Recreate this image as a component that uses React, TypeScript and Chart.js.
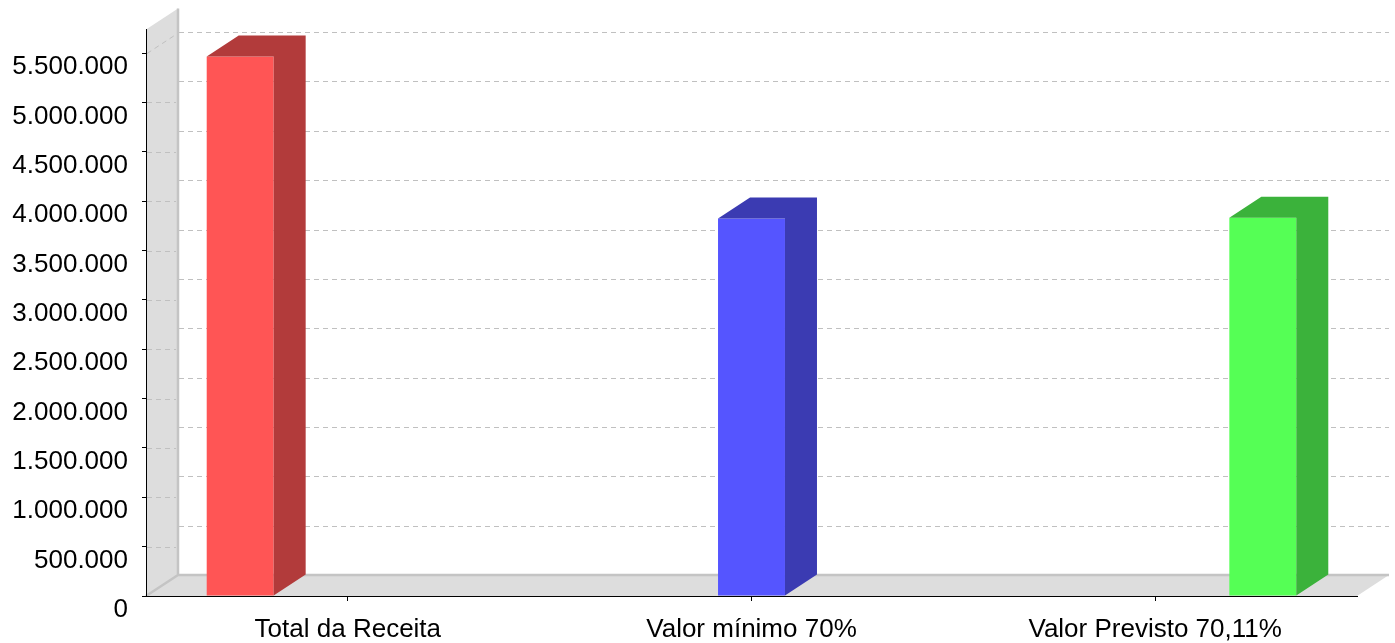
import React, { useEffect, useRef } from "react";
import { Chart, registerables } from "chart.js";

Chart.register(...registerables);

// ---- data ----
const categories = ["Total da Receita", "Valor mínimo 70%", "Valor Previsto 70,11%"];
const seriesNames = ["Total da Receita", "Valor mínimo 70%", "Valor Previsto 70,11%"];
const totalReceita = [5465000, null, null];
const valorMinimo = [null, 3825500, null];
const valorPrevisto = [null, null, 3831500];
const yMin = 0;
const yMax = 5738250;
const yStep = 500000;

// ---- styles ----
const frontColors = ["#FF5555", "#5555FF", "#55FF55"];
const sideColors = ["#B23B3B", "#3B3BB2", "#3BB23B"];
const DX = 32;
const DY = 21;
const FONT = "'Liberation Sans', Arial, sans-serif";

const fmt = (v: number) => String(Math.round(v)).replace(/\B(?=(\d{3})+(?!\d))/g, ".");

const threeD = {
  id: "threeD",
  beforeDraw(chart: any) {
    const ctx = chart.ctx;
    const a = chart.chartArea;
    const ys = chart.scales.y;
    ctx.save();
    // walls
    ctx.fillStyle = "#DDDDDD";
    ctx.beginPath();
    ctx.moveTo(a.left, a.bottom);
    ctx.lineTo(a.left, a.top);
    ctx.lineTo(a.left + DX, a.top - DY);
    ctx.lineTo(a.left + DX, a.bottom - DY);
    ctx.closePath();
    ctx.fill();
    ctx.beginPath();
    ctx.moveTo(a.left, a.bottom);
    ctx.lineTo(a.left + DX, a.bottom - DY);
    ctx.lineTo(a.right + DX, a.bottom - DY);
    ctx.lineTo(a.right, a.bottom);
    ctx.closePath();
    ctx.fill();
    // wall edges
    ctx.strokeStyle = "#C4C4C4";
    ctx.lineWidth = 2.5;
    ctx.beginPath();
    ctx.moveTo(a.left + DX, a.top - DY);
    ctx.lineTo(a.left + DX, a.bottom - DY);
    ctx.lineTo(a.right + DX, a.bottom - DY);
    ctx.moveTo(a.left, a.bottom);
    ctx.lineTo(a.left + DX, a.bottom - DY);
    ctx.stroke();
    // gridlines
    ctx.strokeStyle = "#C0C0C0";
    ctx.lineWidth = 1;
    ctx.setLineDash([5, 4]);
    const ticks = ys.ticks;
    ticks.forEach((t: any, i: number) => {
      const py = Math.round(ys.getPixelForValue(t.value)) + 0.5;
      ctx.beginPath();
      if (t.value !== 0) {
        ctx.moveTo(a.left + DX + 1, py - DY);
        ctx.lineTo(a.right + DX, py - DY);
      }
      if (i === ticks.length - 1) {
        ctx.moveTo(a.left + 1, py);
        ctx.lineTo(a.left + DX - 2, py - DY + 2);
      } else {
        ctx.moveTo(a.left + 1, py);
        ctx.lineTo(a.left + DX - 2, py);
      }
      ctx.stroke();
    });
    ctx.restore();
  },
  afterDatasetsDraw(chart: any) {
    const ctx = chart.ctx;
    ctx.save();
    chart.data.datasets.forEach((ds: any, di: number) => {
      const meta = chart.getDatasetMeta(di);
      meta.data.forEach((el: any, i: number) => {
        if (ds.data[i] === null || ds.data[i] === undefined) return;
        const p = el.getProps(["x", "y", "base", "width"], true);
        const left = p.x - p.width / 2;
        const right = p.x + p.width / 2;
        const top = Math.min(p.y, p.base);
        const base = Math.max(p.y, p.base);
        ctx.fillStyle = sideColors[di];
        ctx.beginPath();
        ctx.moveTo(left, top);
        ctx.lineTo(left + DX, top - DY);
        ctx.lineTo(right + DX, top - DY);
        ctx.lineTo(right + DX, base - DY);
        ctx.lineTo(right, base);
        ctx.lineTo(right, top);
        ctx.closePath();
        ctx.fill();
      });
    });
    ctx.restore();
  },
};

export default function App() {
  const ref = useRef<HTMLCanvasElement>(null);
  useEffect(() => {
    document.body.style.margin = "0";
    const seriesData = [totalReceita, valorMinimo, valorPrevisto];
    const chart = new Chart(ref.current as HTMLCanvasElement, {
      type: "bar",
      data: {
        labels: categories,
        datasets: seriesData.map((d, i) => ({
          label: seriesNames[i],
          data: d,
          backgroundColor: frontColors[i],
          borderWidth: 0,
          categoryPercentage: 0.8,
          barPercentage: 0.622,
        })),
      },
      options: {
        animation: false,
        responsive: false,
        devicePixelRatio: 1,
        layout: { padding: { left: 0, right: 38, top: 28, bottom: 0 } },
        plugins: { legend: { display: false }, tooltip: { enabled: false } },
        scales: {
          x: {
            afterFit: (s: any) => { s.height = 47; },
            grid: { display: true, drawOnChartArea: false, offset: false, tickLength: 5, color: "#000" },
            border: { display: true, color: "#000", width: 1 },
            ticks: { color: "#000", font: { family: FONT, size: 26 }, padding: 13, maxRotation: 0 },
          },
          y: {
            min: yMin,
            max: yMax,
            afterFit: (s: any) => { s.width = 146; },
            afterBuildTicks: (s: any) => {
              const t: any[] = [];
              for (let v = yMin; v <= yMax; v += yStep) t.push({ value: v });
              s.ticks = t;
            },
            grid: { display: true, drawOnChartArea: false, tickLength: 4, color: "#000" },
            border: { display: true, color: "#000", width: 1 },
            ticks: {
              stepSize: yStep,
              color: "#000",
              font: { family: FONT, size: 26 },
              padding: 14,
              labelOffset: 14,
              callback: (v: any) => fmt(Number(v)),
            },
          },
        },
      },
      plugins: [threeD],
    });
    return () => chart.destroy();
  }, []);
  return (
    <div style={{ position: "absolute", left: 0, top: 0, width: 1395, height: 643, background: "#fff" }}>
      <canvas ref={ref} width={1395} height={643} style={{ display: "block" }} />
    </div>
  );
}
